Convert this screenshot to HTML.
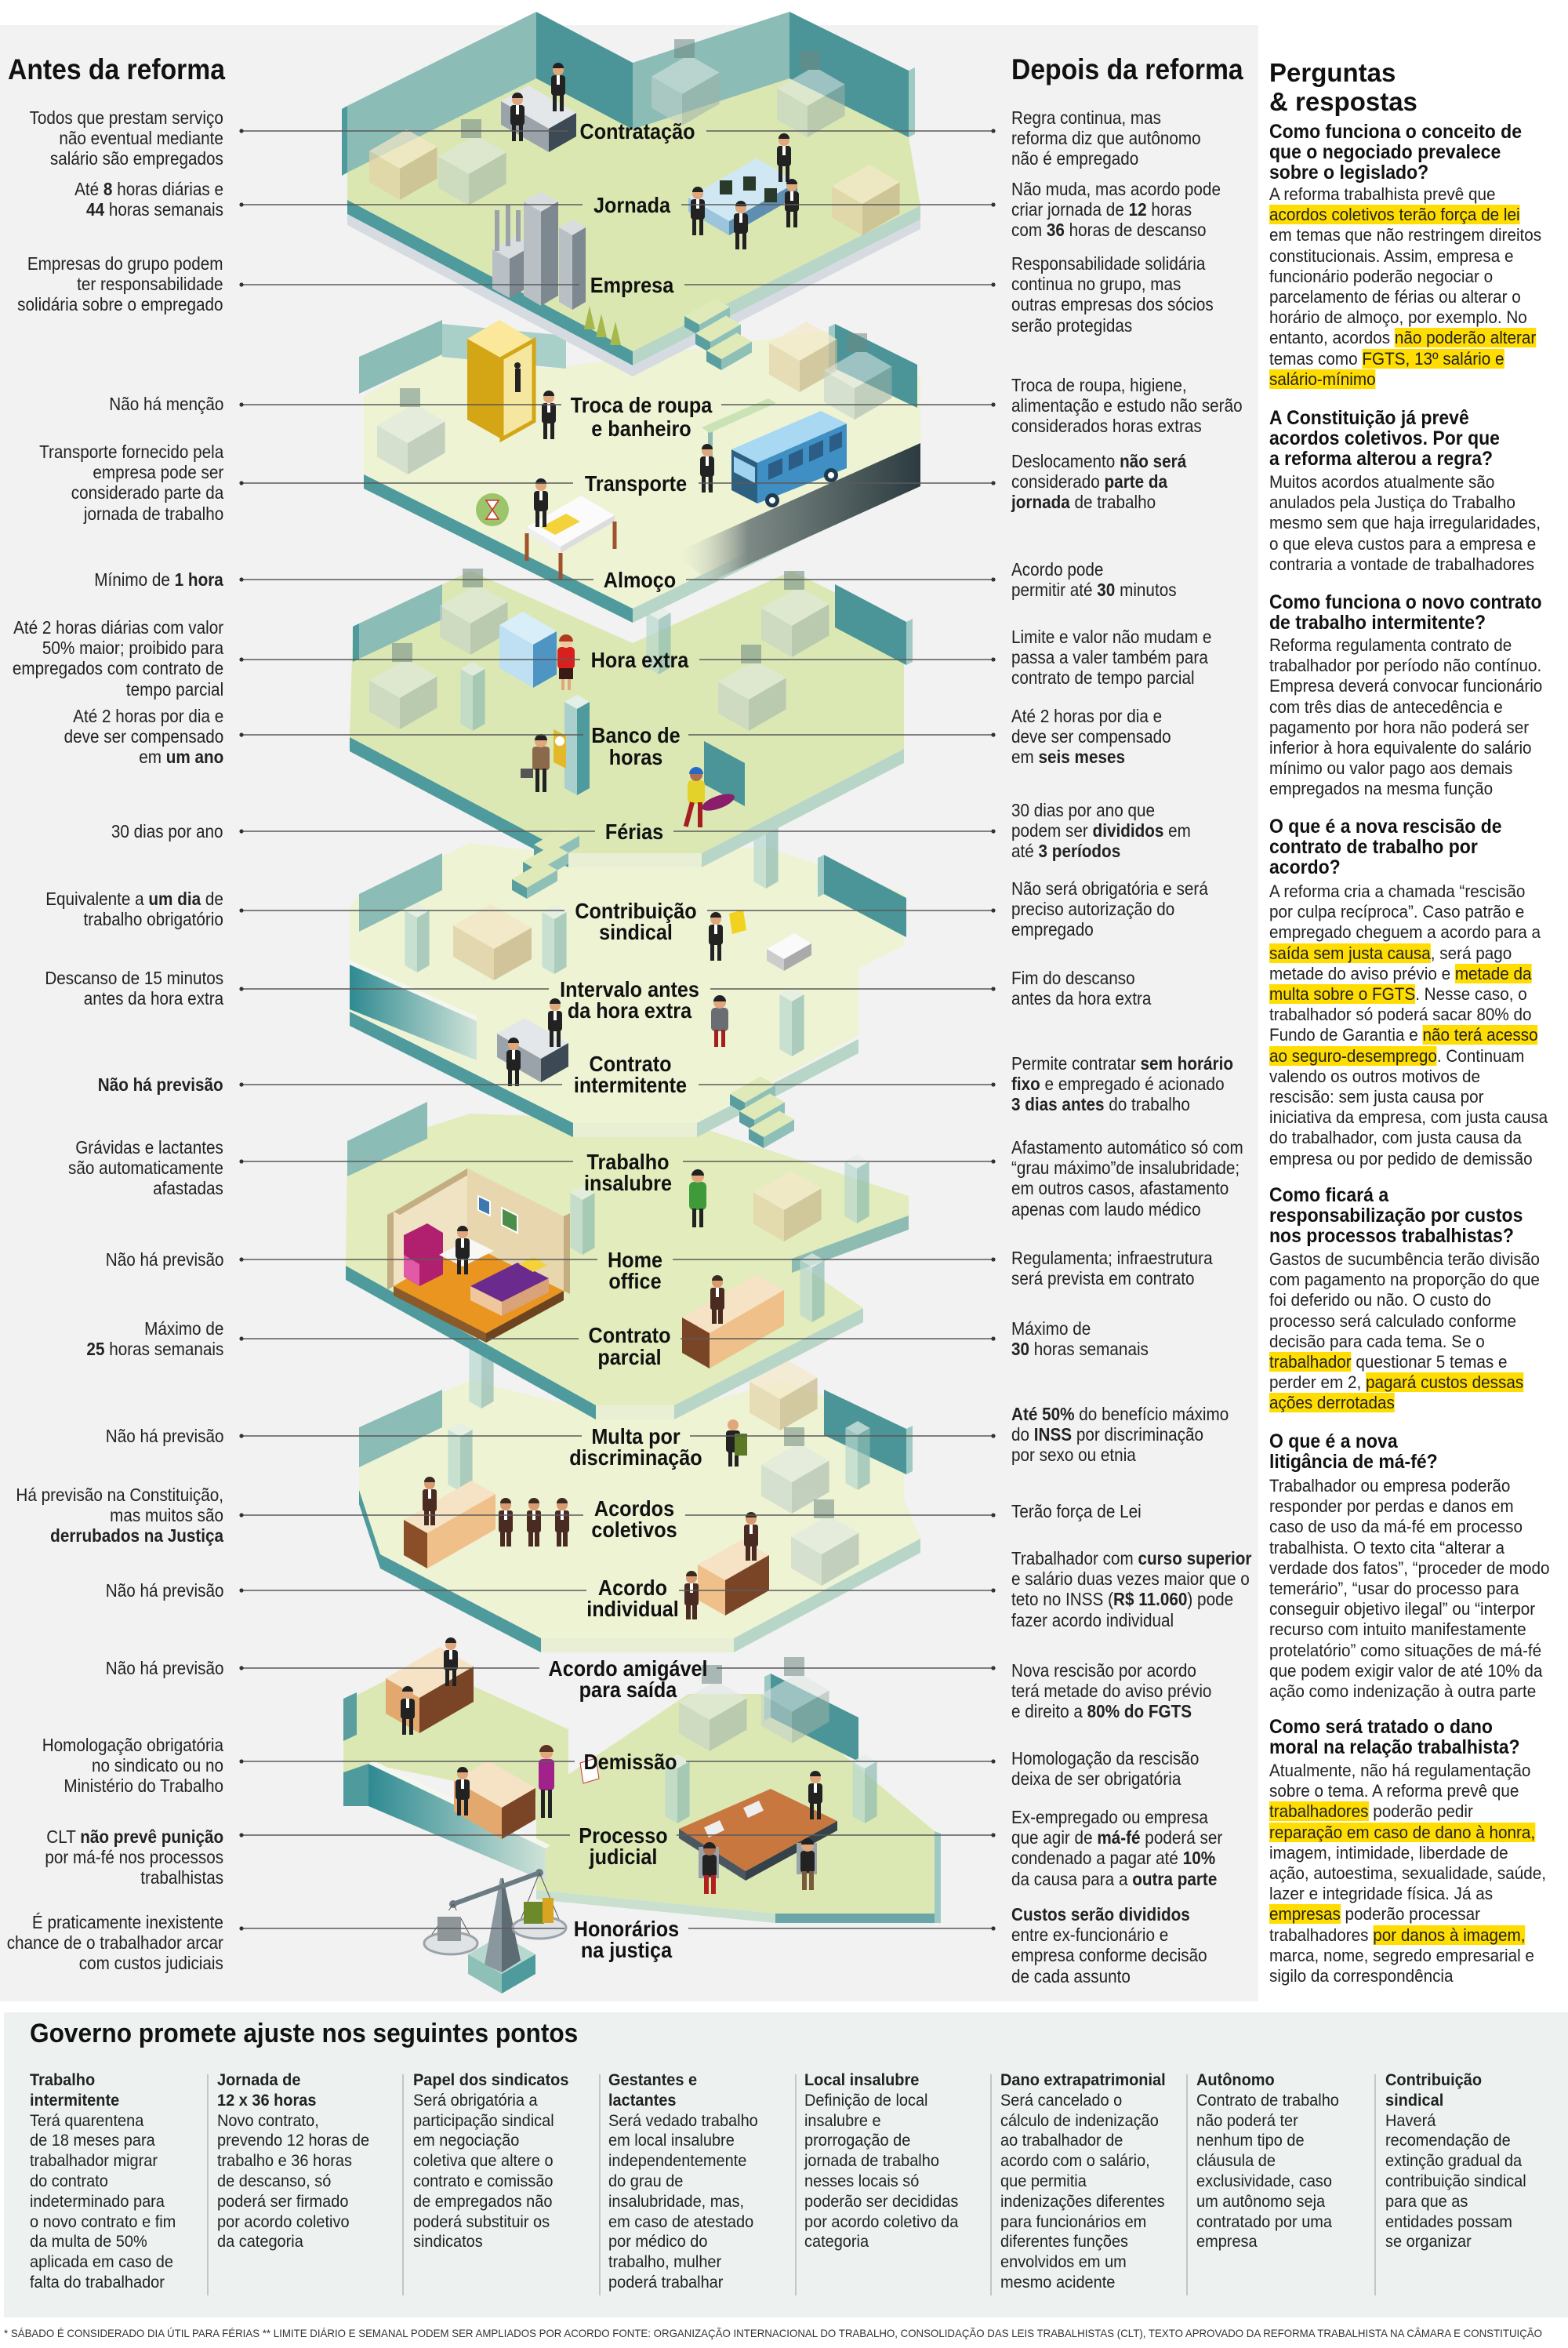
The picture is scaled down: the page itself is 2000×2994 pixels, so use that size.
<!DOCTYPE html>
<html><head><meta charset="utf-8">
<style>
*{margin:0;padding:0}
body{width:2000px;height:2994px;position:relative;background:#fff;overflow:hidden;font-family:"Liberation Sans",sans-serif;color:#222}
.L,.R,.Q,.H,.C,.T{position:absolute;white-space:nowrap}
.L{right:1715px;text-align:right;font-size:23px;line-height:26.2px;transform:scaleX(.9);transform-origin:right top}
.R{left:1290px;font-size:23px;line-height:26.2px;transform:scaleX(.9);transform-origin:left top}
.H{left:1619px;font-size:25px;line-height:26.2px;font-weight:bold;transform:scaleX(.92);transform-origin:left top;color:#111}
.Q{left:1619px;font-size:22px;line-height:26.2px;transform:scaleX(.94);transform-origin:left top}
.Q span{background:#ffdd00}
.T{font-weight:bold;color:#111}
.C{font-size:21px;line-height:25.8px;transform:scaleX(.95);transform-origin:left top}
.C b{display:block}
</style></head><body>
<div style="position:absolute;left:0;top:32px;width:1605px;height:2520px;background:#f2f2f2"></div>
<div style="position:absolute;left:5px;top:2566px;width:1995px;height:389px;background:#edf2f1"></div>

<svg style="position:absolute;left:0;top:0" width="2000" height="2994" viewBox="0 0 2000 2994">
<defs>
<linearGradient id="tg" x1="0" x2="1" y1="0" y2="0"><stop offset="0" stop-color="#2f8a92"/><stop offset="1" stop-color="#cfe3d8"/></linearGradient>
<linearGradient id="road" x1="1" x2="0" y1="0" y2="0"><stop offset="0" stop-color="#2c3b40"/><stop offset=".7" stop-color="#7d8a86"/><stop offset="1" stop-color="#eef3d6" stop-opacity="0"/></linearGradient>
<g id="pale" opacity=".55"><polygon points="0,-40 47.6,-67.5 8.6,-90 -39,-62.5" fill="#dfe8e4"/><polygon points="0,0 47.6,-27.5 47.6,-67.5 0,-40" fill="#9fb3aa"/><polygon points="0,0 -39,-22.5 -39,-62.5 0,-40" fill="#c3d2cb"/><rect x="-10" y="-110" width="26" height="24" fill="#6f8a84"/></g>
<g id="beige" opacity=".7"><polygon points="0,-40 47.6,-67.5 8.6,-90 -39,-62.5" fill="#f5e9c9"/><polygon points="0,0 47.6,-27.5 47.6,-67.5 0,-40" fill="#c9b88c"/><polygon points="0,0 -39,-22.5 -39,-62.5 0,-40" fill="#e4d3a8"/></g>
<g id="pil" opacity=".7"><polygon points="0,-70 15.6,-79 0,-88 -15.6,-79" fill="#e3efe9"/><polygon points="0,0 15.6,-9 15.6,-79 0,-70" fill="#8fbcb2"/><polygon points="0,0 -15.6,-9 -15.6,-79 0,-70" fill="#b9d8cf"/></g>
<g id="step"><polygon points="0,-14 39,-36.5 20,-47.5 -19,-25" fill="#dfeab8"/><polygon points="0,0 39,-22.5 39,-36.5 0,-14" fill="#8fc0b8"/><polygon points="0,0 -19,-11 -19,-25 0,-14" fill="#5a9ea0"/></g>
<g id="man"><rect x="-9" y="-46" width="18" height="26" rx="4" fill="#222"/><rect x="-7" y="-22" width="5" height="22" fill="#222"/><rect x="2" y="-22" width="5" height="22" fill="#222"/><circle cy="-53" r="7" fill="#e0a77c"/><path d="M-7,-55a7,7 0 0 1 14,0z" fill="#222"/><rect x="-2" y="-46" width="4" height="12" fill="#fff"/></g>
<g id="brown"><rect x="-9" y="-46" width="18" height="28" rx="3" fill="#4a2b22"/><rect x="-7" y="-20" width="6" height="20" fill="#4a2b22"/><rect x="1" y="-20" width="6" height="20" fill="#4a2b22"/><circle cy="-53" r="7" fill="#d99a70"/><path d="M-7,-55a7,7 0 0 1 14,0z" fill="#3a2a20"/><rect x="-2" y="-46" width="4" height="12" fill="#fff"/></g>
</defs>

<!-- LEVEL 7 -->
<polygon points="438,2170 537,2120 725,2205 725,2300 470,2249 438,2260" fill="#dce8b4"/>
<polygon points="438,2166 455,2158 455,2212 438,2220" fill="#5a9ea0"/>
<polygon points="438,2260 470,2249 470,2303 438,2303" fill="#4f9a9c"/>
<polygon points="684,2290 878,2160 983,2160 1192,2335 1192,2440 989,2440 684,2410" fill="#dce8b4"/>
<polygon points="983,2190 1095,2246 1095,2190 983,2134" fill="#4b9598"/>
<polygon points="975,2194 983,2190 983,2134 975,2138" fill="#9fcac4"/>
<polygon points="684,2410 989,2440 989,2452 684,2422" fill="#c9e0cf"/>
<polygon points="989,2440 1192,2440 1192,2452 989,2452" fill="#6aa5a8"/>
<polygon points="1192,2335 1200,2338 1200,2452 1192,2452" fill="#9fcac4"/>
<polygon points="470,2249 696,2357 696,2399 470,2303" fill="url(#tg)"/>
<polygon points="470,2249 696,2357 702,2353 476,2245" fill="#f4f7ee"/>
<use href="#pale" x="905" y="2233"/><use href="#pale" x="1010" y="2223"/>
<use href="#pil" x="864" y="2325"/><use href="#pil" x="1103" y="2325"/>
<polygon points="535,2165 604,2125 561,2100 492,2140" fill="#f6e2c4"/>
<polygon points="535,2210 604,2170 604,2125 535,2165" fill="#7a4526"/>
<polygon points="535,2210 492,2185 492,2140 535,2165" fill="#e3a86e"/>
<use href="#man" x="575" y="2150"/><use href="#man" x="520" y="2212"/>
<polygon points="640,2305 683,2280 623,2245 579,2270" fill="#f6e2c4"/>
<polygon points="640,2345 683,2320 683,2280 640,2305" fill="#7a4526"/>
<polygon points="640,2345 579,2310 579,2270 640,2305" fill="#e3a86e"/>
<use href="#man" x="590" y="2315"/>
<g transform="translate(697,2318)"><rect x="-10" y="-75" width="20" height="40" rx="5" fill="#a0228a"/><rect x="-7" y="-36" width="5" height="36" fill="#222"/><rect x="2" y="-36" width="5" height="36" fill="#222"/><circle cy="-83" r="8" fill="#e0a77c"/><path d="M-9,-84a9,9 0 0 1 18,0z" fill="#5a3420"/></g>
<polygon points="740,2248 760,2242 764,2268 744,2274" fill="#fff" stroke="#c33" stroke-width="1"/>
<polygon points="866,2332 983,2281 1068,2322 951,2386" fill="#c8773e"/>
<polygon points="866,2332 951,2386 951,2398 866,2344" fill="#4b5660"/>
<polygon points="951,2386 1068,2322 1068,2334 951,2398" fill="#36414a"/>
<rect x="900" y="2325" width="22" height="14" fill="#eee" transform="rotate(-25 911 2332)"/>
<rect x="950" y="2300" width="22" height="14" fill="#eee" transform="rotate(-25 961 2307)"/>
<use href="#man" x="1040" y="2320"/>
<g transform="translate(905,2415)"><rect x="-14" y="-60" width="26" height="40" fill="#9aa3aa"/><rect x="-9" y="-50" width="18" height="28" rx="4" fill="#222"/><rect x="-7" y="-24" width="6" height="24" fill="#b0201c"/><rect x="2" y="-24" width="6" height="24" fill="#b0201c"/><circle cy="-57" r="8" fill="#b07050"/><path d="M-8,-58a8,8 0 0 1 16,0z" fill="#222"/></g>
<g transform="translate(1030,2410)"><rect x="-14" y="-60" width="26" height="40" fill="#9aa3aa"/><rect x="-9" y="-50" width="18" height="28" rx="4" fill="#222"/><rect x="-7" y="-24" width="6" height="24" fill="#7a5a3a"/><rect x="2" y="-24" width="6" height="24" fill="#7a5a3a"/><circle cy="-57" r="8" fill="#e0a77c"/><path d="M-8,-58a8,8 0 0 1 16,0z" fill="#222"/></g>
<polygon points="640,2517 683,2492 640,2467 597,2492" fill="#b6d8cf"/>
<polygon points="640,2542 683,2517 683,2492 640,2517" fill="#4f9a9c"/>
<polygon points="640,2542 597,2517 597,2492 640,2517" fill="#8fc0b8"/>
<polygon points="618,2505 638,2395 640,2395 640,2515" fill="#8a979e"/>
<polygon points="640,2515 640,2395 642,2395 664,2500" fill="#5d6b73"/>
<line x1="578" y1="2428" x2="688" y2="2388" stroke="#6b7b83" stroke-width="6"/>
<circle cx="578" cy="2428" r="5" fill="#6b7b83"/><circle cx="688" cy="2388" r="5" fill="#6b7b83"/>
<line x1="578" y1="2428" x2="545" y2="2475" stroke="#555" stroke-width="1"/><line x1="578" y1="2428" x2="605" y2="2478" stroke="#555" stroke-width="1"/>
<line x1="688" y1="2388" x2="660" y2="2458" stroke="#555" stroke-width="1"/><line x1="688" y1="2388" x2="715" y2="2452" stroke="#555" stroke-width="1"/>
<ellipse cx="575" cy="2478" rx="34" ry="14" fill="#dfe3e5" stroke="#9aa3aa" stroke-width="3"/>
<ellipse cx="688" cy="2458" rx="34" ry="14" fill="#dfe3e5" stroke="#9aa3aa" stroke-width="3"/>
<rect x="558" y="2440" width="30" height="35" fill="#8f969a"/><rect x="558" y="2436" width="30" height="8" fill="#f2f2f2"/>
<rect x="668" y="2425" width="26" height="28" fill="#6d8a2a"/><rect x="692" y="2420" width="14" height="32" fill="#d9a422"/>

<!-- LEVEL 6 -->
<polygon points="458,1820 600,1760 760,1800 860,1800 1000,1760 1153,1820 1153,1911 1174,1962 936,2089 690,2089 485,1982 458,1900" fill="#eef3d4"/>
<polygon points="485,1982 690,2089 690,2107 485,2000" fill="#4f9a9c"/>
<polygon points="458,1900 485,1982 485,2000 458,1918" fill="#4f9a9c"/>
<polygon points="690,2089 936,2089 936,2107 690,2107" fill="#e8efd5"/>
<polygon points="936,2089 1174,1962 1174,1980 936,2107" fill="#b7d6c8"/>
<polygon points="458,1871 564,1820 564,1772 458,1820" fill="#8bbcb5"/>
<polygon points="1051,1830 1156,1880 1156,1822 1051,1772" fill="#4b9598"/>
<polygon points="1156,1880 1164,1876 1164,1818 1156,1822" fill="#9fcac4"/>
<use href="#beige" x="995" y="1824"/><use href="#pale" x="1010" y="1930"/><use href="#pale" x="1048" y="2022"/>
<use href="#pil" x="587" y="1902"/><use href="#pil" x="614" y="1796"/><use href="#pil" x="1094" y="1900"/>
<polygon points="545,1955 632,1905 601,1888 515,1938" fill="#f6e2c4"/>
<polygon points="545,2000 632,1950 632,1905 545,1955" fill="#f0c08a"/>
<polygon points="545,2000 515,1983 515,1938 545,1955" fill="#8a4f28"/>
<use href="#brown" x="548" y="1945"/>
<use href="#brown" x="645" y="1972"/><use href="#brown" x="681" y="1972"/><use href="#brown" x="717" y="1972"/>
<g transform="translate(935,1870)"><rect x="-9" y="-46" width="18" height="28" rx="4" fill="#222"/><rect x="-6" y="-20" width="5" height="20" fill="#222"/><rect x="2" y="-20" width="5" height="20" fill="#222"/><circle cy="-53" r="7" fill="#e0a77c"/><rect x="2" y="-42" width="16" height="28" fill="#5c7a25"/></g>
<polygon points="925,2015 981,1983 947,1963 890,1995" fill="#f6e2c4"/>
<polygon points="925,2060 981,2028 981,1983 925,2015" fill="#7a4526"/>
<polygon points="925,2060 890,2040 890,1995 925,2015" fill="#f0c08a"/>
<use href="#brown" x="958" y="1990"/><use href="#brown" x="882" y="2065"/>

<!-- LEVEL 5 -->
<polygon points="443,1470 600,1420 870,1430 1159,1525 1159,1550 1010,1605 1101,1668 860,1792 760,1792 441,1614" fill="#e2ecbc"/>
<polygon points="441,1614 760,1792 760,1810 441,1632" fill="#4f9a9c"/>
<polygon points="760,1792 860,1792 860,1810 760,1810" fill="#e8efd5"/>
<polygon points="860,1792 1101,1668 1101,1686 860,1810" fill="#b7d6c8"/>
<polygon points="1010,1605 1159,1550 1159,1568 1010,1623" fill="#8fbcb2"/>
<polygon points="443,1500 545,1452 545,1405 443,1455" fill="#8bbcb5"/>
<use href="#beige" x="1000" y="1583"/>
<use href="#pil" x="743" y="1600"/><use href="#pil" x="1036" y="1686"/><use href="#pil" x="1093" y="1560"/>
<polygon points="596,1585 719,1646 620,1700 502,1640" fill="#e9951f"/>
<polygon points="502,1640 620,1700 620,1712 502,1652" fill="#8a5a2b"/>
<polygon points="620,1700 719,1646 719,1658 620,1712" fill="#6e4420"/>
<polygon points="502,1640 596,1585 596,1490 502,1545" fill="#f0e3c3"/>
<polygon points="494,1645 502,1640 502,1545 494,1549" fill="#c4ad80"/>
<polygon points="502,1545 596,1490 604,1494 510,1549" fill="#c4ad80"/>
<polygon points="596,1585 719,1646 719,1551 596,1490" fill="#e7d6ae"/>
<polygon points="719,1551 727,1547 727,1650 719,1646" fill="#c4ad80"/>
<polygon points="610,1525 625,1532 625,1550 610,1543" fill="#3d79b0" stroke="#fff" stroke-width="2"/>
<polygon points="640,1540 660,1550 660,1572 640,1562" fill="#4d8d4a" stroke="#fff" stroke-width="2"/>
<polygon points="600,1640 660,1610 700,1630 640,1660" fill="#6a2a8e"/>
<polygon points="640,1660 700,1630 700,1648 640,1678" fill="#d9a278"/>
<polygon points="600,1640 640,1660 640,1678 600,1658" fill="#f0c79c"/>
<polygon points="662,1612 680,1603 698,1613 680,1622" fill="#f3d23a"/>
<polygon points="515,1575 545,1560 565,1572 565,1625 535,1640 515,1628" fill="#b0206e"/>
<polygon points="515,1600 535,1612 535,1640 515,1628" fill="#e05aa8"/>
<polygon points="560,1600 600,1580 630,1595 590,1615" fill="#f7f7f4"/>
<use href="#man" x="590" y="1625"/>
<polygon points="905,1700 1000,1645 965,1625 870,1680" fill="#f6e2c4"/>
<polygon points="905,1745 1000,1690 1000,1645 905,1700" fill="#f0c08a"/>
<polygon points="905,1745 870,1725 870,1680 905,1700" fill="#7a4526"/>
<use href="#brown" x="915" y="1688"/>

<!-- LEVEL 4 -->
<polygon points="458,1140 600,1075 725,1090 977,1080 1153,1138 1153,1205 1095,1235 1095,1320 889,1432 731,1432 446,1290 446,1160" fill="#eef3d4"/>
<polygon points="446,1290 731,1432 731,1450 446,1308" fill="#4f9a9c"/>
<polygon points="731,1432 889,1432 889,1450 731,1450" fill="#e8efd5"/>
<polygon points="889,1432 1095,1325 1095,1343 889,1450" fill="#b7d6c8"/>
<polygon points="446,1230 608,1302 608,1352 446,1287" fill="url(#tg)"/>
<polygon points="446,1224 608,1296 608,1302 446,1230" fill="#f4f7ee"/>
<polygon points="458,1188 564,1135 564,1088 458,1140" fill="#8bbcb5"/>
<polygon points="1051,1140 1156,1195 1156,1145 1051,1090" fill="#4b9598"/>
<polygon points="1043,1144 1051,1140 1051,1090 1043,1094" fill="#9fcac4"/>
<use href="#pil" x="532" y="1240"/><use href="#pil" x="707" y="1242"/><use href="#pil" x="977" y="1133"/><use href="#pil" x="1010" y="1347"/>
<polygon points="630,1210 678,1183 626,1153 578,1180" fill="#f3e6c6" opacity=".8"/>
<polygon points="630,1250 678,1223 678,1183 630,1210" fill="#c9b88c" opacity=".8"/>
<polygon points="630,1250 578,1220 578,1180 630,1210" fill="#e0cfa5" opacity=".8"/>
<polygon points="1000,1223 1035,1203 1013,1190 978,1210" fill="#fafafa"/>
<polygon points="1000,1238 1035,1218 1035,1203 1000,1223" fill="#aaa"/>
<polygon points="1000,1238 978,1225 978,1210 1000,1223" fill="#ccc"/>
<use href="#man" x="913" y="1225"/>
<polygon points="930,1165 948,1160 952,1186 934,1191" fill="#f2d21e"/>
<g transform="translate(918,1335)"><rect x="-11" y="-50" width="22" height="30" rx="5" fill="#6a6e72"/><rect x="-7" y="-22" width="5" height="22" fill="#a41f1f"/><rect x="2" y="-22" width="5" height="22" fill="#a41f1f"/><circle cy="-57" r="8" fill="#e0a77c"/><path d="M-8,-58a8,8 0 0 1 16,0z" fill="#222"/></g>
<polygon points="690,1350 725,1330 669,1298 634,1318" fill="#e4e7ea"/>
<polygon points="690,1380 725,1360 725,1330 690,1350" fill="#3d4a55"/>
<polygon points="690,1380 634,1348 634,1318 690,1350" fill="#9aa3aa"/>
<use href="#man" x="655" y="1385"/><use href="#man" x="708" y="1335"/>
<use href="#step" x="950" y="1420"/><use href="#step" x="962" y="1442"/><use href="#step" x="974" y="1464"/>
<g transform="translate(890,1565)"><rect x="-11" y="-58" width="22" height="36" rx="6" fill="#3f9a3a"/><rect x="-7" y="-24" width="5" height="24" fill="#222"/><rect x="2" y="-24" width="5" height="24" fill="#222"/><circle cy="-65" r="8" fill="#e0a77c"/><path d="M-8,-66a8,8 0 0 1 16,0z" fill="#222"/></g>

<!-- LEVEL 3 -->
<polygon points="450,800 600,728 807,820 1010,728 1153,800 1153,955 895,1088 725,1088 446,940" fill="#dce8b4"/>
<polygon points="446,940 725,1088 725,1106 446,958" fill="#4f9a9c"/>
<polygon points="725,1088 895,1088 895,1106 725,1106" fill="#e8efd5"/>
<polygon points="895,1088 1153,955 1153,973 895,1106" fill="#b7d6c8"/>
<polygon points="458,840 564,790 564,745 458,795" fill="#8bbcb5"/>
<polygon points="450,844 458,840 458,795 450,799" fill="#4f9a9c"/>
<polygon points="1065,800 1156,848 1156,793 1065,745" fill="#4b9598"/>
<polygon points="1156,848 1164,844 1164,789 1156,793" fill="#9fcac4"/>
<polygon points="898,1000 898,945 950,973 950,1028" fill="#4b9598"/>
<use href="#pale" x="600" y="835"/><use href="#pale" x="510" y="930"/><use href="#pale" x="1010" y="838"/><use href="#pale" x="955" y="932"/>
<use href="#pil" x="603" y="932"/><use href="#pil" x="840" y="860"/>
<polygon points="680,822 710,805 667,780 637,797" fill="#d8eef8"/>
<polygon points="680,877 710,860 710,805 680,822" fill="#4f95c4"/>
<polygon points="680,877 637,852 637,797 680,822" fill="#bfe0f2"/>
<g transform="translate(722,880)"><rect x="-11" y="-55" width="22" height="28" rx="5" fill="#d8201e"/><rect x="-9" y="-28" width="18" height="14" fill="#3a1a14"/><rect x="-6" y="-14" width="4" height="14" fill="#e0a77c"/><rect x="2" y="-14" width="4" height="14" fill="#e0a77c"/><circle cy="-62" r="8" fill="#f0c7a0"/><path d="M-9,-62a9,9 0 0 1 18,0z" fill="#b0391e"/></g>
<polygon points="736,904 752,895 736,886 720,895" fill="#e3efe9"/>
<polygon points="736,1014 752,1005 752,895 736,904" fill="#4f9a9c"/>
<polygon points="736,1014 720,1005 720,895 736,904" fill="#a9d0cc"/>
<polygon points="706,930 722,938 722,980 706,972" fill="#e3b92b"/>
<circle cx="714" cy="945" r="6" fill="#fff"/>
<g transform="translate(690,1010)"><rect x="-11" y="-58" width="22" height="30" rx="4" fill="#8a6a4a"/><rect x="-7" y="-30" width="5" height="30" fill="#222"/><rect x="2" y="-30" width="5" height="30" fill="#222"/><circle cy="-65" r="8" fill="#e0a77c"/><path d="M-8,-66a8,8 0 0 1 16,0z" fill="#222"/><rect x="-26" y="-30" width="16" height="12" fill="#555"/></g>
<g transform="translate(888,1055)"><rect x="-11" y="-60" width="22" height="30" rx="5" fill="#e3d22a"/><rect x="-8" y="-32" width="6" height="32" fill="#a41f1f" transform="rotate(15 -5 -32)"/><rect x="2" y="-32" width="6" height="32" fill="#a41f1f"/><circle cy="-67" r="8" fill="#b07050"/><path d="M-9,-68a9,9 0 0 1 18,0z" fill="#2a68c8"/><ellipse cx="28" cy="-32" rx="22" ry="8" fill="#8a1e6a" transform="rotate(-20 28 -32)"/></g>
<use href="#step" x="700" y="1102"/><use href="#step" x="686" y="1124"/><use href="#step" x="672" y="1146"/>

<!-- LEVEL 2 -->
<polygon points="464,505 560,452 700,470 1070,420 1174,480 1174,597 807,776 464,605" fill="#eef3d4"/>
<polygon points="464,605 807,776 807,794 464,623" fill="#4f9a9c"/>
<polygon points="807,776 1174,597 1174,615 807,794" fill="#b7d6c8"/>
<polygon points="458,502 564,452 564,408 458,455" fill="#8bbcb5"/>
<polygon points="564,413 722,428 722,470 564,455" fill="#a9cfc9"/>
<polygon points="1065,470 1170,520 1170,465 1065,413" fill="#4b9598"/>
<polygon points="1057,474 1065,470 1065,413 1057,417" fill="#9fcac4"/>
<use href="#beige" x="1020" y="500"/><use href="#pale" x="520" y="605"/><use href="#pale" x="1090" y="535"/>
<polygon points="860,705 1174,565 1174,620 905,742" fill="url(#road)"/>
<polygon points="640,457 681,434 637,408 596,432" fill="#fbe89a"/>
<polygon points="640,560 681,537 681,434 640,457" fill="#f6e7a0" stroke="#d4a514" stroke-width="5"/>
<polygon points="640,560 596,535 596,432 640,457" fill="#d4a514"/>
<rect x="657" y="470" width="7" height="30" fill="#222"/><circle cx="660" cy="466" r="4" fill="#222"/>
<use href="#man" x="700" y="560"/>
<rect x="903" y="545" width="6" height="80" fill="#8fbcb2"/>
<polygon points="895,545 980,508 990,514 905,552" fill="#c9e3b5"/>
<use href="#man" x="902" y="628"/>
<polygon points="933,573 966,590 966,642 933,625" fill="#2d5f80"/>
<polygon points="936,582 963,596 963,616 936,602" fill="#9fd3ef"/>
<polygon points="966,590 1080,540 1080,597 966,642" fill="#3f8fc4"/>
<polygon points="933,573 966,590 1080,540 1047,524" fill="#a8d8f2"/>
<polygon points="980,592 998,584 998,604 980,612" fill="#2b5d86"/>
<polygon points="1006,580 1024,572 1024,592 1006,600" fill="#2b5d86"/>
<polygon points="1032,569 1050,561 1050,581 1032,589" fill="#2b5d86"/>
<polygon points="1058,557 1074,550 1074,570 1058,577" fill="#2b5d86"/>
<circle cx="985" cy="638" r="9" fill="#1f3b52"/><circle cx="985" cy="638" r="4" fill="#fff"/>
<circle cx="1060" cy="606" r="9" fill="#1f3b52"/><circle cx="1060" cy="606" r="4" fill="#fff"/>
<polygon points="715,697 784,657 741,632 672,672" fill="#fbfbfb"/>
<polygon points="715,705 784,665 784,657 715,697" fill="#ddd"/>
<polygon points="715,705 672,680 672,672 715,697" fill="#eee"/>
<line x1="715" y1="705" x2="715" y2="740" stroke="#a0522d" stroke-width="5"/><line x1="784" y1="665" x2="784" y2="700" stroke="#a0522d" stroke-width="5"/><line x1="672" y1="680" x2="672" y2="715" stroke="#a0522d" stroke-width="5"/>
<polygon points="690,672 722,655 740,665 708,682" fill="#f3d23a"/>
<circle cx="628" cy="650" r="21" fill="#9cc46a"/><path d="M620,638h16l-8,12l8,12h-16l8,-12z" fill="#fff" stroke="#c33" stroke-width="1.5"/>
<use href="#man" x="690" y="672"/>

<!-- LEVEL 1 -->
<polygon points="443,220 684,100 807,165 1007,100 1159,175 1174,262 807,448 443,255" fill="#dbe7b1"/>
<polygon points="443,255 807,448 807,466 443,273" fill="#4f9a9c"/>
<polygon points="807,448 1174,262 1174,280 807,466" fill="#b7d6c8"/>
<polygon points="443,273 807,466 1174,280 1174,292 807,480 443,287" fill="#d5dbe0"/>
<polygon points="443,220 684,100 684,15 443,135" fill="#8bbcb5"/>
<polygon points="684,100 807,165 807,80 684,15" fill="#4b9598"/>
<polygon points="807,165 1007,100 1007,15 807,80" fill="#8bbcb5"/>
<polygon points="1007,100 1159,175 1159,90 1007,15" fill="#4b9598"/>
<polygon points="1159,175 1167,171 1167,86 1159,90" fill="#9fcac4"/>
<polygon points="436,224 443,220 443,135 436,139" fill="#4f9a9c"/>
<use href="#beige" x="510" y="255"/><use href="#pale" x="598" y="262"/><use href="#pale" x="870" y="160"/><use href="#pale" x="1030" y="175"/><use href="#beige" x="1100" y="300"/>
<polygon points="700,164 735,144 674,109 639,129" fill="#e4e7ea"/>
<polygon points="700,194 735,174 735,144 700,164" fill="#3d4a55"/>
<polygon points="700,194 639,159 639,129 700,164" fill="#9aa3aa"/>
<use href="#man" x="660" y="180"/><use href="#man" x="712" y="142"/>
<polygon points="650,330 680,313 658,300 628,318" fill="#d9dde0"/>
<polygon points="650,380 680,363 680,313 650,330" fill="#7d8890"/>
<polygon points="650,380 628,368 628,318 650,330" fill="#b9c0c5"/>
<rect x="631" y="268" width="6" height="52" fill="#9aa3aa"/><rect x="645" y="262" width="6" height="52" fill="#9aa3aa"/><rect x="658" y="268" width="6" height="40" fill="#9aa3aa"/>
<polygon points="690,270 712,257 690,245 668,257" fill="#d9dde0"/>
<polygon points="690,390 712,377 712,257 690,270" fill="#7d8890"/>
<polygon points="690,390 668,377 668,257 690,270" fill="#b9c0c5"/>
<polygon points="730,300 747,290 730,280 713,290" fill="#d9dde0"/>
<polygon points="730,395 747,385 747,290 730,300" fill="#7d8890"/>
<polygon points="730,395 713,385 713,290 730,300" fill="#b9c0c5"/>
<polygon points="745,420 752,390 759,420" fill="#a7b84a"/><polygon points="760,430 767,400 774,430" fill="#a7b84a"/><polygon points="778,440 785,410 792,440" fill="#a7b84a"/>
<polygon points="930,282 1017,232 965,202 878,252" fill="#cfe8f3"/>
<polygon points="930,300 1017,250 1017,232 930,282" fill="#5f8fb0"/>
<polygon points="930,300 878,270 878,252 930,282" fill="#9cc4da"/>
<rect x="918" y="230" width="16" height="18" fill="#2a3a2a"/><rect x="948" y="225" width="16" height="18" fill="#2a3a2a"/><rect x="975" y="240" width="16" height="18" fill="#2a3a2a"/>
<use href="#man" x="890" y="300"/><use href="#man" x="945" y="318"/><use href="#man" x="1010" y="290"/><use href="#man" x="1000" y="232"/>
<use href="#step" x="892" y="428"/><use href="#step" x="906" y="450"/><use href="#step" x="920" y="472"/>

<!-- CONNECTORS -->
<g stroke="#5a5a5a" stroke-width="1.6" fill="none">
<path d="M308 167H725M901 167H1267"/>
<path d="M308 261H743M869 261H1267"/>
<path d="M308 363H739M873 363H1267"/>
<path d="M308 516H716M920 516H1267"/>
<path d="M308 616H731M891 616H1267"/>
<path d="M308 739H757M875 739H1267"/>
<path d="M308 841H740M892 841H1267"/>
<path d="M308 937H744M878 937H1267"/>
<path d="M308 1060H759M859 1060H1267"/>
<path d="M308 1161H720M902 1161H1267"/>
<path d="M308 1261H700M906 1261H1267"/>
<path d="M308 1383H717M891 1383H1267"/>
<path d="M308 1481H731M871 1481H1267"/>
<path d="M308 1606H762M858 1606H1267"/>
<path d="M308 1707H738M868 1707H1267"/>
<path d="M308 1831H742M880 1831H1267"/>
<path d="M308 1932H744M874 1932H1267"/>
<path d="M308 2028H748M866 2028H1267"/>
<path d="M308 2127H688M914 2127H1267"/>
<path d="M308 2246H733M875 2246H1267"/>
<path d="M308 2340H727M863 2340H1267"/>
<path d="M308 2459H720M878 2459H1267"/>
</g>
<g fill="#333">
<circle cx="308" cy="167" r="2.6"/><circle cx="1267" cy="167" r="2.6"/><circle cx="308" cy="261" r="2.6"/><circle cx="1267" cy="261" r="2.6"/><circle cx="308" cy="363" r="2.6"/><circle cx="1267" cy="363" r="2.6"/><circle cx="308" cy="516" r="2.6"/><circle cx="1267" cy="516" r="2.6"/><circle cx="308" cy="616" r="2.6"/><circle cx="1267" cy="616" r="2.6"/><circle cx="308" cy="739" r="2.6"/><circle cx="1267" cy="739" r="2.6"/><circle cx="308" cy="841" r="2.6"/><circle cx="1267" cy="841" r="2.6"/><circle cx="308" cy="937" r="2.6"/><circle cx="1267" cy="937" r="2.6"/><circle cx="308" cy="1060" r="2.6"/><circle cx="1267" cy="1060" r="2.6"/><circle cx="308" cy="1161" r="2.6"/><circle cx="1267" cy="1161" r="2.6"/><circle cx="308" cy="1261" r="2.6"/><circle cx="1267" cy="1261" r="2.6"/><circle cx="308" cy="1383" r="2.6"/><circle cx="1267" cy="1383" r="2.6"/><circle cx="308" cy="1481" r="2.6"/><circle cx="1267" cy="1481" r="2.6"/><circle cx="308" cy="1606" r="2.6"/><circle cx="1267" cy="1606" r="2.6"/><circle cx="308" cy="1707" r="2.6"/><circle cx="1267" cy="1707" r="2.6"/><circle cx="308" cy="1831" r="2.6"/><circle cx="1267" cy="1831" r="2.6"/><circle cx="308" cy="1932" r="2.6"/><circle cx="1267" cy="1932" r="2.6"/><circle cx="308" cy="2028" r="2.6"/><circle cx="1267" cy="2028" r="2.6"/><circle cx="308" cy="2127" r="2.6"/><circle cx="1267" cy="2127" r="2.6"/><circle cx="308" cy="2246" r="2.6"/><circle cx="1267" cy="2246" r="2.6"/><circle cx="308" cy="2340" r="2.6"/><circle cx="1267" cy="2340" r="2.6"/><circle cx="308" cy="2459" r="2.6"/><circle cx="1267" cy="2459" r="2.6"/>
</g>

<!-- LABELS -->
<g font-family="Liberation Sans, sans-serif" font-weight="bold" font-size="28" fill="#111" text-anchor="middle">
<text x="813" y="177" transform="matrix(.9 0 0 1 81.3 0)">Contratação</text>
<text x="806" y="271" transform="matrix(.9 0 0 1 80.6 0)">Jornada</text>
<text x="806" y="373" transform="matrix(.9 0 0 1 80.6 0)">Empresa</text>
<text x="818" y="526" transform="matrix(.9 0 0 1 81.8 0)">Troca de roupa</text>
<text x="818" y="556" transform="matrix(.9 0 0 1 81.8 0)">e banheiro</text>
<text x="811" y="626" transform="matrix(.9 0 0 1 81.1 0)">Transporte</text>
<text x="816" y="749" transform="matrix(.9 0 0 1 81.6 0)">Almoço</text>
<text x="816" y="851" transform="matrix(.9 0 0 1 81.6 0)">Hora extra</text>
<text x="811" y="947" transform="matrix(.9 0 0 1 81.1 0)">Banco de</text>
<text x="811" y="975" transform="matrix(.9 0 0 1 81.1 0)">horas</text>
<text x="809" y="1070" transform="matrix(.9 0 0 1 80.9 0)">Férias</text>
<text x="811" y="1171" transform="matrix(.9 0 0 1 81.1 0)">Contribuição</text>
<text x="811" y="1198" transform="matrix(.9 0 0 1 81.1 0)">sindical</text>
<text x="803" y="1271" transform="matrix(.9 0 0 1 80.3 0)">Intervalo antes</text>
<text x="803" y="1298" transform="matrix(.9 0 0 1 80.3 0)">da hora extra</text>
<text x="804" y="1366" transform="matrix(.9 0 0 1 80.4 0)">Contrato</text>
<text x="804" y="1393" transform="matrix(.9 0 0 1 80.4 0)">intermitente</text>
<text x="801" y="1491" transform="matrix(.9 0 0 1 80.1 0)">Trabalho</text>
<text x="801" y="1518" transform="matrix(.9 0 0 1 80.1 0)">insalubre</text>
<text x="810" y="1616" transform="matrix(.9 0 0 1 81 0)">Home</text>
<text x="810" y="1643" transform="matrix(.9 0 0 1 81 0)">office</text>
<text x="803" y="1712" transform="matrix(.9 0 0 1 80.3 0)">Contrato</text>
<text x="803" y="1740" transform="matrix(.9 0 0 1 80.3 0)">parcial</text>
<text x="811" y="1841" transform="matrix(.9 0 0 1 81.1 0)">Multa por</text>
<text x="811" y="1868" transform="matrix(.9 0 0 1 81.1 0)">discriminação</text>
<text x="809" y="1933" transform="matrix(.9 0 0 1 80.9 0)">Acordos</text>
<text x="809" y="1960" transform="matrix(.9 0 0 1 80.9 0)">coletivos</text>
<text x="807" y="2034" transform="matrix(.9 0 0 1 80.7 0)">Acordo</text>
<text x="807" y="2061" transform="matrix(.9 0 0 1 80.7 0)">individual</text>
<text x="801" y="2137" transform="matrix(.9 0 0 1 80.1 0)">Acordo amigável</text>
<text x="801" y="2164" transform="matrix(.9 0 0 1 80.1 0)">para saída</text>
<text x="804" y="2256" transform="matrix(.9 0 0 1 80.4 0)">Demissão</text>
<text x="795" y="2350" transform="matrix(.9 0 0 1 79.5 0)">Processo</text>
<text x="795" y="2377" transform="matrix(.9 0 0 1 79.5 0)">judicial</text>
<text x="799" y="2469" transform="matrix(.9 0 0 1 79.9 0)">Honorários</text>
<text x="799" y="2496" transform="matrix(.9 0 0 1 79.9 0)">na justiça</text>
</g>

<g stroke="#aaa" stroke-width="1.2"><path d="M265 2645V2927M514 2645V2927M765 2645V2927M1015 2645V2927M1264 2645V2927M1514 2645V2927M1754 2645V2927"/></g>
<text x="5" y="2980" font-family="Liberation Sans, sans-serif" font-size="14" fill="#333" textLength="1962" lengthAdjust="spacingAndGlyphs">* SÁBADO É CONSIDERADO DIA ÚTIL PARA FÉRIAS    ** LIMITE DIÁRIO E SEMANAL PODEM SER AMPLIADOS POR ACORDO     FONTE: ORGANIZAÇÃO INTERNACIONAL DO TRABALHO, CONSOLIDAÇÃO DAS LEIS TRABALHISTAS (CLT), TEXTO APROVADO DA REFORMA TRABALHISTA NA CÂMARA E CONSTITUIÇÃO</text>
</svg>

<div class="T" style="left:10px;top:68px;font-size:37px;transform:scaleX(.91);transform-origin:left top">Antes da reforma</div>
<div class="T" style="left:1290px;top:68px;font-size:37px;transform:scaleX(.91);transform-origin:left top">Depois da reforma</div>
<div class="T" style="left:1619px;top:74px;font-size:33px;line-height:37px">Perguntas<br>&amp; respostas</div>

<div class="L" style="top:137px">Todos que prestam serviço<br>não eventual mediante<br>salário são empregados</div>
<div class="L" style="top:228px">Até <b>8</b> horas diárias e<br><b>44</b> horas semanais</div>
<div class="L" style="top:323px">Empresas do grupo podem<br>ter responsabilidade<br>solidária sobre o empregado</div>
<div class="L" style="top:502px">Não há menção</div>
<div class="L" style="top:563px">Transporte fornecido pela<br>empresa pode ser<br>considerado parte da<br>jornada de trabalho</div>
<div class="L" style="top:726px">Mínimo de <b>1 hora</b></div>
<div class="L" style="top:787px">Até 2 horas diárias com valor<br>50% maior; proibido para<br>empregados com contrato de<br>tempo parcial</div>
<div class="L" style="top:900px">Até 2 horas por dia e<br>deve ser compensado<br>em <b>um ano</b></div>
<div class="L" style="top:1047px">30 dias por ano</div>
<div class="L" style="top:1133px">Equivalente a <b>um dia</b> de<br>trabalho obrigatório</div>
<div class="L" style="top:1234px">Descanso de 15 minutos<br>antes da hora extra</div>
<div class="L" style="top:1370px"><b>Não há previsão</b></div>
<div class="L" style="top:1450px">Grávidas e lactantes<br>são automaticamente<br>afastadas</div>
<div class="L" style="top:1593px">Não há previsão</div>
<div class="L" style="top:1681px">Máximo de<br><b>25</b> horas semanais</div>
<div class="L" style="top:1818px">Não há previsão</div>
<div class="L" style="top:1893px">Há previsão na Constituição,<br>mas muitos são<br><b>derrubados na Justiça</b></div>
<div class="L" style="top:2015px">Não há previsão</div>
<div class="L" style="top:2114px">Não há previsão</div>
<div class="L" style="top:2212px">Homologação obrigatória<br>no sindicato ou no<br>Ministério do Trabalho</div>
<div class="L" style="top:2329px">CLT <b>não prevê punição</b><br>por má-fé nos processos<br>trabalhistas</div>
<div class="L" style="top:2438px">É praticamente inexistente<br>chance de o trabalhador arcar<br>com custos judiciais</div>

<div class="R" style="top:137px">Regra continua, mas<br>reforma diz que autônomo<br>não é empregado</div>
<div class="R" style="top:228px">Não muda, mas acordo pode<br>criar jornada de <b>12</b> horas<br>com <b>36</b> horas de descanso</div>
<div class="R" style="top:323px">Responsabilidade solidária<br>continua no grupo, mas<br>outras empresas dos sócios<br>serão protegidas</div>
<div class="R" style="top:478px">Troca de roupa, higiene,<br>alimentação e estudo não serão<br>considerados horas extras</div>
<div class="R" style="top:575px">Deslocamento <b>não será</b><br>considerado <b>parte da</b><br><b>jornada</b> de trabalho</div>
<div class="R" style="top:713px">Acordo pode<br>permitir até <b>30</b> minutos</div>
<div class="R" style="top:799px">Limite e valor não mudam e<br>passa a valer também para<br>contrato de tempo parcial</div>
<div class="R" style="top:900px">Até 2 horas por dia e<br>deve ser compensado<br>em <b>seis meses</b></div>
<div class="R" style="top:1020px">30 dias por ano que<br>podem ser <b>divididos</b> em<br>até <b>3 períodos</b></div>
<div class="R" style="top:1120px">Não será obrigatória e será<br>preciso autorização do<br>empregado</div>
<div class="R" style="top:1234px">Fim do descanso<br>antes da hora extra</div>
<div class="R" style="top:1343px">Permite contratar <b>sem horário</b><br><b>fixo</b> e empregado é acionado<br><b>3 dias antes</b> do trabalho</div>
<div class="R" style="top:1450px">Afastamento automático só com<br>“grau máximo”de insalubridade;<br>em outros casos, afastamento<br>apenas com laudo médico</div>
<div class="R" style="top:1591px">Regulamenta; infraestrutura<br>será prevista em contrato</div>
<div class="R" style="top:1681px">Máximo de<br><b>30</b> horas semanais</div>
<div class="R" style="top:1790px"><b>Até 50%</b> do benefício máximo<br>do <b>INSS</b> por discriminação<br>por sexo ou etnia</div>
<div class="R" style="top:1914px">Terão força de Lei</div>
<div class="R" style="top:1974px">Trabalhador com <b>curso superior</b><br>e salário duas vezes maior que o<br>teto no INSS (<b>R$ 11.060</b>) pode<br>fazer acordo individual</div>
<div class="R" style="top:2117px">Nova rescisão por acordo<br>terá metade do aviso prévio<br>e direito a <b>80% do FGTS</b></div>
<div class="R" style="top:2229px">Homologação da rescisão<br>deixa de ser obrigatória</div>
<div class="R" style="top:2304px">Ex-empregado ou empresa<br>que agir de <b>má-fé</b> poderá ser<br>condenado a pagar até <b>10%</b><br>da causa para a <b>outra parte</b></div>
<div class="R" style="top:2428px"><b>Custos serão divididos</b><br>entre ex-funcionário e<br>empresa conforme decisão<br>de cada assunto</div>

<div class="H" style="top:155px">Como funciona o conceito de<br>que o negociado prevalece<br>sobre o legislado?</div>
<div class="Q" style="top:235px">A reforma trabalhista prevê que<br><span>acordos coletivos terão força de lei</span><br>em temas que não restringem direitos<br>constitucionais. Assim, empresa e<br>funcionário poderão negociar o<br>parcelamento de férias ou alterar o<br>horário de almoço, por exemplo. No<br>entanto, acordos <span>não poderão alterar</span><br>temas como <span>FGTS, 13º salário e</span><br><span>salário-mínimo</span></div>
<div class="H" style="top:520px">A Constituição já prevê<br>acordos coletivos. Por que<br>a reforma alterou a regra?</div>
<div class="Q" style="top:602px">Muitos acordos atualmente são<br>anulados pela Justiça do Trabalho<br>mesmo sem que haja irregularidades,<br>o que eleva custos para a empresa e<br>contraria a vontade de trabalhadores</div>
<div class="H" style="top:755px">Como funciona o novo contrato<br>de trabalho intermitente?</div>
<div class="Q" style="top:810px">Reforma regulamenta contrato de<br>trabalhador por período não contínuo.<br>Empresa deverá convocar funcionário<br>com três dias de antecedência e<br>pagamento por hora não poderá ser<br>inferior à hora equivalente do salário<br>mínimo ou valor pago aos demais<br>empregados na mesma função</div>
<div class="H" style="top:1041px">O que é a nova rescisão de<br>contrato de trabalho por<br>acordo?</div>
<div class="Q" style="top:1124px">A reforma cria a chamada “rescisão<br>por culpa recíproca”. Caso patrão e<br>empregado cheguem a acordo para a<br><span>saída sem justa causa</span>, será pago<br>metade do aviso prévio e <span>metade da</span><br><span>multa sobre o FGTS</span>. Nesse caso, o<br>trabalhador só poderá sacar 80% do<br>Fundo de Garantia e <span>não terá acesso</span><br><span>ao seguro-desemprego</span>. Continuam<br>valendo os outros motivos de<br>rescisão: sem justa causa por<br>iniciativa da empresa, com justa causa<br>do trabalhador, com justa causa da<br>empresa ou por pedido de demissão</div>
<div class="H" style="top:1511px">Como ficará a<br>responsabilização por custos<br>nos processos trabalhistas?</div>
<div class="Q" style="top:1593px">Gastos de sucumbência terão divisão<br>com pagamento na proporção do que<br>foi deferido ou não. O custo do<br>processo será calculado conforme<br>decisão para cada tema. Se o<br><span>trabalhador</span> questionar 5 temas e<br>perder em 2, <span>pagará custos dessas</span><br><span>ações derrotadas</span></div>
<div class="H" style="top:1825px">O que é a nova<br>litigância de má-fé?</div>
<div class="Q" style="top:1882px">Trabalhador ou empresa poderão<br>responder por perdas e danos em<br>caso de uso da má-fé em processo<br>trabalhista. O texto cita “alterar a<br>verdade dos fatos”, “proceder de modo<br>temerário”, “usar do processo para<br>conseguir objetivo ilegal” ou “interpor<br>recurso com intuito manifestamente<br>protelatório” como situações de má-fé<br>que podem exigir valor de até 10% da<br>ação como indenização à outra parte</div>
<div class="H" style="top:2189px">Como será tratado o dano<br>moral na relação trabalhista?</div>
<div class="Q" style="top:2245px">Atualmente, não há regulamentação<br>sobre o tema. A reforma prevê que<br><span>trabalhadores</span> poderão pedir<br><span>reparação em caso de dano à honra,</span><br>imagem, intimidade, liberdade de<br>ação, autoestima, sexualidade, saúde,<br>lazer e integridade física. Já as<br><span>empresas</span> poderão processar<br>trabalhadores <span>por danos à imagem,</span><br>marca, nome, segredo empresarial e<br>sigilo da correspondência</div>

<div class="T" style="left:38px;top:2574px;font-size:34px;transform:scaleX(.93);transform-origin:left top">Governo promete ajuste nos seguintes pontos</div>
<div class="C" style="left:38px;top:2640px"><b>Trabalho<br>intermitente</b>Terá quarentena<br>de 18 meses para<br>trabalhador migrar<br>do contrato<br>indeterminado para<br>o novo contrato e fim<br>da multa de 50%<br>aplicada em caso de<br>falta do trabalhador</div>
<div class="C" style="left:277px;top:2640px"><b>Jornada de<br>12 x 36 horas</b>Novo contrato,<br>prevendo 12 horas de<br>trabalho e 36 horas<br>de descanso, só<br>poderá ser firmado<br>por acordo coletivo<br>da categoria</div>
<div class="C" style="left:527px;top:2640px"><b>Papel dos sindicatos</b>Será obrigatória a<br>participação sindical<br>em negociação<br>coletiva que altere o<br>contrato e comissão<br>de empregados não<br>poderá substituir os<br>sindicatos</div>
<div class="C" style="left:776px;top:2640px"><b>Gestantes e<br>lactantes</b>Será vedado trabalho<br>em local insalubre<br>independentemente<br>do grau de<br>insalubridade, mas,<br>em caso de atestado<br>por médico do<br>trabalho, mulher<br>poderá trabalhar</div>
<div class="C" style="left:1026px;top:2640px"><b>Local insalubre</b>Definição de local<br>insalubre e<br>prorrogação de<br>jornada de trabalho<br>nesses locais só<br>poderão ser decididas<br>por acordo coletivo da<br>categoria</div>
<div class="C" style="left:1276px;top:2640px"><b>Dano extrapatrimonial</b>Será cancelado o<br>cálculo de indenização<br>ao trabalhador de<br>acordo com o salário,<br>que permitia<br>indenizações diferentes<br>para funcionários em<br>diferentes funções<br>envolvidos em um<br>mesmo acidente</div>
<div class="C" style="left:1526px;top:2640px"><b>Autônomo</b>Contrato de trabalho<br>não poderá ter<br>nenhum tipo de<br>cláusula de<br>exclusividade, caso<br>um autônomo seja<br>contratado por uma<br>empresa</div>
<div class="C" style="left:1767px;top:2640px"><b>Contribuição<br>sindical</b>Haverá<br>recomendação de<br>extinção gradual da<br>contribuição sindical<br>para que as<br>entidades possam<br>se organizar</div>
</body></html>
